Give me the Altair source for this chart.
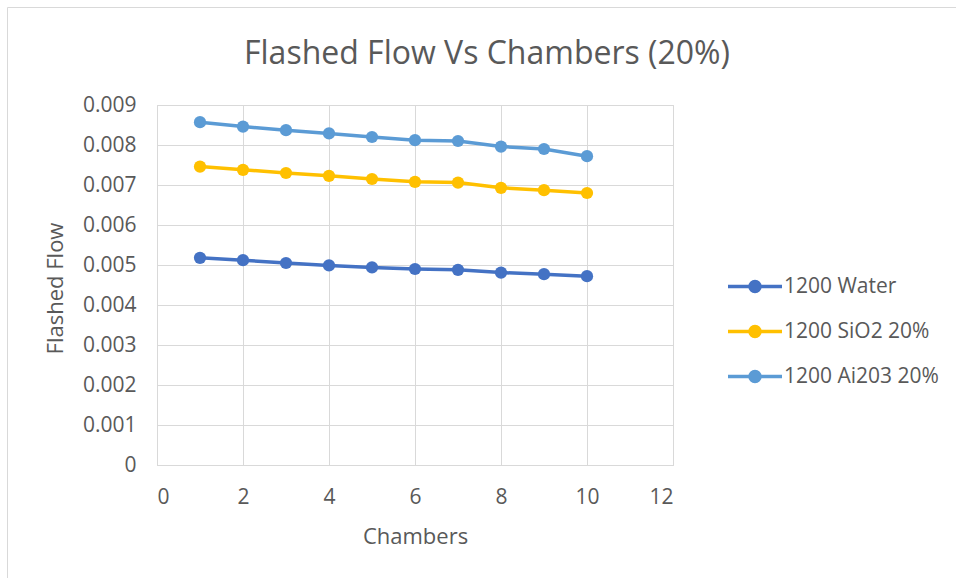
import altair as alt
import pandas as pd

# Flashed flow per chamber for each working fluid
chambers = [1, 2, 3, 4, 5, 6, 7, 8, 9, 10]
water = [0.00518, 0.00512, 0.00505, 0.00499, 0.00494, 0.00490, 0.00488, 0.00481, 0.00477, 0.00472]
sio2 = [0.00746, 0.00738, 0.00730, 0.00723, 0.00715, 0.00708, 0.00706, 0.00693, 0.00687, 0.00680]
ai203 = [0.00857, 0.00846, 0.00837, 0.00829, 0.00820, 0.00812, 0.00810, 0.00796, 0.00790, 0.00772]

series_names = ["1200 Water", "1200 SiO2 20%", "1200 Ai203 20%"]
series_colors = ["#4472C4", "#FFC000", "#5B9BD5"]

x_ticks = [0, 2, 4, 6, 8, 10, 12]
y_ticks = [0, 0.001, 0.002, 0.003, 0.004, 0.005, 0.006, 0.007, 0.008, 0.009]

rows = []
for name, values in zip(series_names, [water, sio2, ai203]):
    for c, v in zip(chambers, values):
        rows.append({"Chambers": c, "Flashed Flow": v, "Series": name})
df = pd.DataFrame(rows)

FONT = "Open Sans"
TEXT = "#595959"
GRID = "#d9d9d9"

scale = alt.Scale(domain=series_names, range=series_colors)

x_enc = alt.X(
    "Chambers:Q",
    scale=alt.Scale(domain=[0, 12], nice=False),
    axis=alt.Axis(values=x_ticks, title="Chambers", titleY=78, titleBaseline="alphabetic"),
)
y_enc = alt.Y(
    "Flashed Flow:Q",
    scale=alt.Scale(domain=[0, 0.009], nice=False),
    axis=alt.Axis(
        values=y_ticks, format="~g", title="Flashed Flow",
        titleX=-95, titleY=183, titleBaseline="alphabetic", titleAngle=-90,
        titleAlign="center",
    ),
)

# legend symbol: a short line with a solid dot (concentric rings fill the dot)
marker_path = (
    "M-2,0H2"
    "M0.37,0A0.37,0.37,0,1,1,-0.37,0A0.37,0.37,0,1,1,0.37,0"
    "M0.22,0A0.22,0.22,0,1,1,-0.22,0A0.22,0.22,0,1,1,0.22,0"
    "M0.08,0A0.08,0.08,0,1,1,-0.08,0A0.08,0.08,0,1,1,0.08,0"
)

legend = alt.Legend(
    title=None,
    orient="none",
    legendX=582.5,
    legendY=166,
    symbolType=marker_path,
    symbolSize=729,
    symbolStrokeWidth=3.5,
    labelOffset=13.5,
    rowPadding=17,
    padding=0,
)

lines = alt.Chart(df).mark_line(strokeWidth=3.5).encode(
    x=x_enc,
    y=y_enc,
    color=alt.Color("Series:N", scale=scale, legend=legend),
)

points = alt.Chart(df).mark_circle(size=150, opacity=1).encode(
    x=x_enc,
    y=y_enc,
    color=alt.Color("Series:N", scale=scale, legend=None),
)

# light frame around the whole chart area
frame = alt.Chart(pd.DataFrame({"k": [0]})).mark_rect(
    fill="transparent", stroke=GRID, strokeWidth=1
).encode(
    x=alt.value(-149.5), x2=alt.value(820), y=alt.value(-97.5), y2=alt.value(500)
)

chart = (
    alt.layer(frame, lines, points)
    .properties(
        width=516,
        height=360,
        autosize=alt.AutoSizeParams(type="none"),
        padding={"left": 157, "top": 105, "right": 283, "bottom": 113},
        title=alt.TitleParams(
            "Flashed Flow Vs Chambers (20%)",
            font=FONT, fontSize=32, fontWeight="normal", color=TEXT,
            anchor="middle", frame="group", dx=72, baseline="alphabetic", offset=-89,
        ),
        background="white",
    )
    .configure_view(stroke=GRID, strokeWidth=1)
    .configure_axis(
        labelFont=FONT, labelFontSize=21, labelColor=TEXT,
        titleFont=FONT, titleFontSize=22, titleColor=TEXT, titleFontWeight="normal",
        gridColor=GRID, gridWidth=1, domainColor=GRID, domainWidth=1,
        ticks=False, tickSize=0,
    )
    .configure_axisX(labelPadding=21, labelBaseline="top")
    .configure_axisY(labelPadding=21)
    .configure_legend(labelFont=FONT, labelFontSize=21, labelColor=TEXT)
)

chart.save("out.html", embed_options={"renderer": "svg", "actions": False})
